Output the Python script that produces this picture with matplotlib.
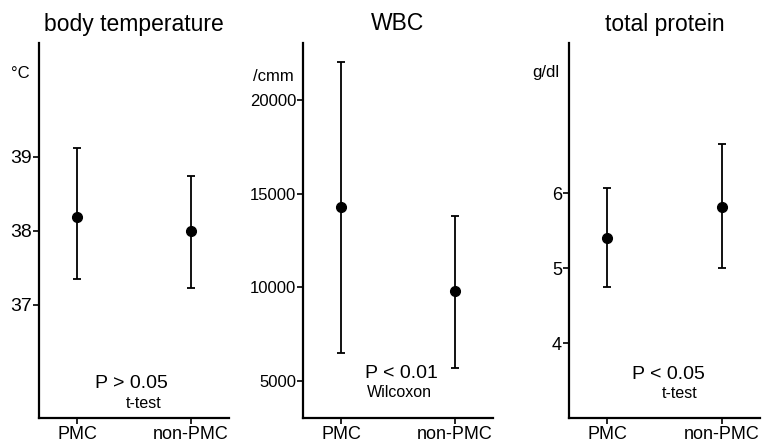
import matplotlib
matplotlib.use("Agg")
import matplotlib.pyplot as plt

groups = ["PMC", "non-PMC"]

titles = ["body temperature", "WBC", "total protein"]
units = ["°C", "/cmm", "g/dl"]

temp_mean = [38.19, 38.0]
temp_low = [37.35, 37.23]
temp_high = [39.12, 38.74]

wbc_mean = [14300, 9800]
wbc_low = [6500, 5700]
wbc_high = [22000, 13800]

prot_mean = [5.4, 5.81]
prot_low = [4.75, 5.0]
prot_high = [6.07, 6.65]

stats = [("P > 0.05", "t-test"), ("P < 0.01", "Wilcoxon"), ("P < 0.05", "t-test")]

yticks = [[37, 38, 39], [5000, 10000, 15000, 20000], [4, 5, 6]]
ylims = [(35.47, 40.54), (3030, 23040), (3.0, 8.0)]

plt.rcParams["font.family"] = ["Liberation Sans", "DejaVu Sans"]

fig = plt.figure(figsize=(7.68, 4.46), dpi=100)
lefts = [39, 303, 569]
widths = [190, 190, 191]
bottom = 1 - 418 / 446
height = (418 - 43) / 446

data = [(temp_mean, temp_low, temp_high),
        (wbc_mean, wbc_low, wbc_high),
        (prot_mean, prot_low, prot_high)]

tick_fs = [14, 12, 13]
unit_pos = [(-0.05, 0.92), (-0.05, 0.91), (-0.05, 0.92)]
p_pos = [(0.485, 0.093), (0.516, 0.12), (0.52, 0.115)]
test_pos = [(0.55, 0.04), (0.505, 0.067), (0.58, 0.064)]

for i in range(3):
    ax = fig.add_axes([lefts[i] / 768, bottom, widths[i] / 768, height])
    mean, low, high = data[i]
    x = list(range(len(groups)))
    err = [[m - l for m, l in zip(mean, low)], [h - m for m, h in zip(mean, high)]]
    ax.errorbar(x, mean, yerr=err, fmt="o", color="black", markersize=7,
                elinewidth=1.3, capsize=3, capthick=1.3)
    ax.set_xlim(-1 / 3, 4 / 3)
    ax.set_ylim(*ylims[i])
    ax.set_xticks(x)
    ax.set_xticklabels(groups, fontsize=13)
    ax.set_yticks(yticks[i])
    ax.set_yticklabels([str(t) for t in yticks[i]], fontsize=tick_fs[i])
    for s in ["top", "right"]:
        ax.spines[s].set_visible(False)
    for s in ["left", "bottom"]:
        ax.spines[s].set_linewidth(1.6)
    ax.tick_params(direction="out", length=4, width=1.2, pad=1)
    ax.tick_params(axis="x", pad=2)
    ax.set_title(titles[i], fontsize=16.5, pad=9)
    # unit label above the tick labels
    ax.text(unit_pos[i][0], unit_pos[i][1], units[i], transform=ax.transAxes,
            ha="right", va="center", fontsize=12)
    ax.text(p_pos[i][0], p_pos[i][1], stats[i][0], transform=ax.transAxes,
            ha="center", va="center", fontsize=14)
    ax.text(test_pos[i][0], test_pos[i][1], stats[i][1], transform=ax.transAxes,
            ha="center", va="center", fontsize=11.5)

fig.savefig("out.png", dpi=100)
